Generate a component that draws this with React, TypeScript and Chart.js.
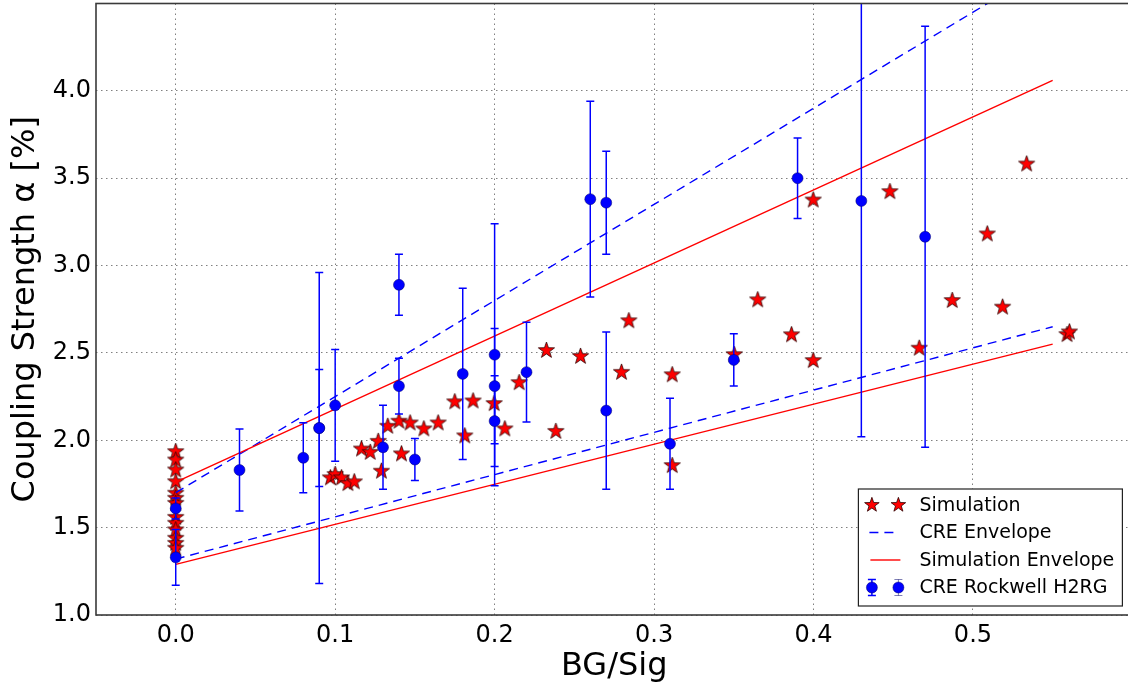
import React, { useEffect, useRef } from "react";
import { Chart, registerables } from "chart.js";

Chart.register(...registerables);

// ---------------- data ----------------
const simX = [
  0, 0, 0, 0, 0, 0, 0, 0, 0, 0, 0, 0, 0,
  0.097, 0.1, 0.104, 0.108, 0.112, 0.1165, 0.122, 0.127, 0.129, 0.133, 0.14, 0.1416,
  0.147, 0.1556, 0.1646, 0.175, 0.1813, 0.1865, 0.1997, 0.2064, 0.2154, 0.2325,
  0.2384, 0.2539, 0.2796, 0.2842, 0.3114, 0.3114, 0.3503, 0.365, 0.3862, 0.3998,
  0.3998, 0.4479, 0.4663, 0.487, 0.509, 0.5186, 0.5337, 0.559, 0.5605,
];
const simY = [
  1.935, 1.887, 1.83, 1.763, 1.697, 1.668, 1.639, 1.559, 1.525, 1.487, 1.439, 1.41, 1.382,
  1.785, 1.804, 1.785, 1.752, 1.762, 1.95, 1.931, 1.994, 1.823, 2.08, 2.109, 1.922,
  2.099, 2.065, 2.099, 2.22, 2.025, 2.225, 2.21, 2.065, 2.33, 2.514,
  2.051, 2.48, 2.389, 2.684, 2.375, 1.855, 2.49, 2.804, 2.604, 3.375,
  2.456, 3.423, 2.527, 2.8, 3.181, 2.762, 3.581, 2.605, 2.62,
];

const creX = [0, 0, 0.04, 0.08, 0.09, 0.09, 0.1, 0.13, 0.14, 0.14, 0.15, 0.18, 0.2, 0.2, 0.2, 0.22, 0.26, 0.27, 0.27, 0.31, 0.35, 0.39, 0.43, 0.47];
const creY = [1.33, 1.61, 1.83, 1.9, 2.07, 2.07, 2.2, 1.96, 2.89, 2.31, 1.89, 2.38, 2.49, 2.31, 2.11, 2.39, 3.38, 3.36, 2.17, 1.98, 2.46, 3.5, 3.37, 3.165];
const creErr = [0.16, 0.06, 0.235, 0.2, 0.89, 0.335, 0.32, 0.24, 0.175, 0.16, 0.12, 0.49, 0.75, 0.33, 0.26, 0.285, 0.56, 0.295, 0.45, 0.26, 0.15, 0.23, 1.35, 1.205];

const envX = [0, 0.55];
const creEnvUpper = [1.7, 4.725];
const creEnvLower = [1.32, 2.65];
const simEnvUpper = [1.76, 4.06];
const simEnvLower = [1.29, 2.55];

const xTicks = [0, 0.1, 0.2, 0.3, 0.4, 0.5];
const yTicks = [1.0, 1.5, 2.0, 2.5, 3.0, 3.5, 4.0];

const legendLabels = ["Simulation", "CRE Envelope", "Simulation Envelope", "CRE Rockwell H2RG"];
const xTitle = "BG/Sig";
const yTitle = "Coupling Strength α [%]";

// ---------------- styles ----------------
const FONT = "'DejaVu Sans', sans-serif";
const RED = "#ff0000";
const BLUE = "#0000ff";
const STAR_R = 8.5;
const DOT_R = 5.5;
const CRE_INDEX = 0;

function drawStar(ctx: CanvasRenderingContext2D, cx: number, cy: number, R: number) {
  const r = R * 0.4;
  ctx.beginPath();
  for (let i = 0; i < 10; i++) {
    const ang = -Math.PI / 2 + (i * Math.PI) / 5;
    const rad = i % 2 === 0 ? R : r;
    ctx.lineTo(cx + rad * Math.cos(ang), cy + rad * Math.sin(ang));
  }
  ctx.closePath();
  ctx.fillStyle = RED;
  ctx.fill();
  ctx.lineWidth = 0.8;
  ctx.strokeStyle = "#2a0000";
  ctx.stroke();
}

function makeStarCanvas(R: number) {
  const c = document.createElement("canvas");
  const s = Math.ceil(2 * R + 4);
  c.width = s;
  c.height = s;
  const ctx = c.getContext("2d")!;
  drawStar(ctx, s / 2, s / 2, R);
  return c;
}

function drawDot(ctx: CanvasRenderingContext2D, x: number, y: number) {
  ctx.beginPath();
  ctx.arc(x, y, DOT_R, 0, Math.PI * 2);
  ctx.fillStyle = BLUE;
  ctx.fill();
  ctx.lineWidth = 0.5;
  ctx.strokeStyle = "#00006a";
  ctx.stroke();
}

function drawErrBar(ctx: CanvasRenderingContext2D, px: number, top: number, bot: number) {
  ctx.beginPath();
  ctx.moveTo(px, top);
  ctx.lineTo(px, bot);
  ctx.moveTo(px - 4, top);
  ctx.lineTo(px + 4, top);
  ctx.moveTo(px - 4, bot);
  ctx.lineTo(px + 4, bot);
  ctx.stroke();
}

const errorBarPlugin = {
  id: "errbars",
  beforeDatasetDraw(chart: any, args: any) {
    if (args.index !== CRE_INDEX) return;
    const { ctx, chartArea, scales } = chart;
    const x = scales.x;
    const y = scales.y;
    ctx.save();
    ctx.beginPath();
    ctx.rect(chartArea.left, chartArea.top, chartArea.right - chartArea.left, chartArea.bottom - chartArea.top);
    ctx.clip();
    ctx.strokeStyle = BLUE;
    ctx.lineWidth = 1.5;
    creX.forEach((xv, i) => {
      const px = x.getPixelForValue(xv);
      const top = y.getPixelForValue(creY[i] + creErr[i]);
      const bot = y.getPixelForValue(creY[i] - creErr[i]);
      drawErrBar(ctx, px, top, bot);
    });
    ctx.restore();
  },
};

const frameLegendPlugin = {
  id: "frameLegend",
  afterDraw(chart: any) {
    const { ctx, chartArea } = chart;
    ctx.save();
    ctx.strokeStyle = "#3a3a3a";
    ctx.lineWidth = 1.6;
    ctx.strokeRect(chartArea.left, chartArea.top, chartArea.right - chartArea.left, chartArea.bottom - chartArea.top);

    const w = 264;
    const h = 117;
    const lx = chartArea.right - 10 - w;
    const ly = chartArea.bottom - 9 - h;
    ctx.fillStyle = "#ffffff";
    ctx.fillRect(lx, ly, w, h);
    ctx.strokeStyle = "#222222";
    ctx.lineWidth = 1.2;
    ctx.strokeRect(lx, ly, w, h);

    const rows = [16, 43.5, 71, 98.5].map((d) => ly + d);
    const m1 = lx + 13.5;
    const m2 = lx + 40;
    drawStar(ctx, m1, rows[0], STAR_R * 0.9);
    drawStar(ctx, m2, rows[0], STAR_R * 0.9);
    ctx.strokeStyle = BLUE;
    ctx.lineWidth = 1.4;
    ctx.setLineDash([9, 6]);
    ctx.beginPath();
    ctx.moveTo(lx + 11, rows[1]);
    ctx.lineTo(lx + 41, rows[1]);
    ctx.stroke();
    ctx.setLineDash([]);
    ctx.strokeStyle = RED;
    ctx.beginPath();
    ctx.moveTo(lx + 12, rows[2]);
    ctx.lineTo(lx + 42, rows[2]);
    ctx.stroke();
    ctx.strokeStyle = BLUE;
    ctx.lineWidth = 1.5;
    [m1, m2].forEach((mx) => {
      drawErrBar(ctx, mx, rows[3] - 8, rows[3] + 8);
      drawDot(ctx, mx, rows[3]);
    });

    ctx.fillStyle = "#000000";
    ctx.font = `19px ${FONT}`;
    ctx.textBaseline = "middle";
    ctx.textAlign = "left";
    legendLabels.forEach((t, i) => ctx.fillText(t, lx + 61, rows[i] + 1));
    ctx.restore();
  },
};

export default function App() {
  const ref = useRef<HTMLCanvasElement | null>(null);

  useEffect(() => {
    document.body.style.margin = "0";
    const canvas = ref.current!;
    const star = makeStarCanvas(STAR_R);
    const pts = (xs: number[], ys: number[]) => xs.map((x, i) => ({ x, y: ys[i] }));
    const lineDs = (ys: number[], color: string, dash: number[]) => ({
      type: "scatter" as const,
      data: pts(envX, ys),
      showLine: true,
      borderColor: color,
      borderWidth: 1.4,
      borderDash: dash,
      pointRadius: 0,
      fill: false,
      order: 1,
    });

    const chart = new Chart(canvas, {
      type: "scatter",
      data: {
        datasets: [
          {
            data: pts(creX, creY),
            pointRadius: DOT_R,
            backgroundColor: BLUE,
            borderColor: "#00006a",
            borderWidth: 0.5,
            order: 0,
          } as any,
          lineDs(simEnvUpper, RED, []),
          lineDs(simEnvLower, RED, []),
          lineDs(creEnvUpper, BLUE, [9, 6]),
          lineDs(creEnvLower, BLUE, [9, 6]),
          {
            data: pts(simX, simY),
            pointStyle: star,
            pointRadius: STAR_R,
            order: 3,
          } as any,
        ],
      },
      options: {
        animation: false,
        responsive: false,
        events: [],
        layout: { autoPadding: false, padding: { top: 3.5, right: 7.6, left: 0, bottom: 0 } },
        plugins: { legend: { display: false }, tooltip: { enabled: false }, title: { display: false } },
        scales: {
          x: {
            type: "linear",
            min: -0.05,
            max: 0.6,
            afterBuildTicks: (s: any) => {
              s.ticks = xTicks.map((v) => ({ value: v }));
            },
            afterFit: (s: any) => {
              s.height = 75;
              s.paddingLeft = 0;
              s.paddingRight = 0;
            },
            ticks: {
              font: { family: FONT, size: 24 },
              color: "#000",
              padding: 6,
              maxRotation: 0,
              callback: (v: any) => Number(v).toFixed(1),
            },
            grid: { color: "#808080", lineWidth: 1, drawTicks: false },
            border: { display: false, dash: [1.5, 3.5] },
            title: {
              display: true,
              text: xTitle,
              color: "#000",
              font: { family: FONT, size: 32 },
              padding: { top: 0, bottom: 4 },
            },
          },
          y: {
            type: "linear",
            min: 1.0,
            max: 4.5,
            afterBuildTicks: (s: any) => {
              s.ticks = yTicks.map((v) => ({ value: v }));
            },
            afterFit: (s: any) => {
              s.width = 96;
              s.paddingTop = 0;
              s.paddingBottom = 0;
            },
            ticks: {
              font: { family: FONT, size: 24 },
              color: "#000",
              padding: 5,
              callback: (v: any) => Number(v).toFixed(1),
            },
            grid: { color: "#808080", lineWidth: 1, drawTicks: false },
            border: { display: false, dash: [1.5, 3.5] },
            title: {
              display: true,
              text: yTitle,
              color: "#000",
              font: { family: FONT, size: 32 },
              padding: { top: 6, bottom: 0 },
            },
          },
        },
      } as any,
      plugins: [errorBarPlugin, frameLegendPlugin],
    });
    return () => chart.destroy();
  }, []);

  return (
    <div style={{ width: 1128, height: 690, overflow: "hidden", background: "#fff" }}>
      <canvas ref={ref} width={1140} height={690} style={{ display: "block" }} />
    </div>
  );
}
